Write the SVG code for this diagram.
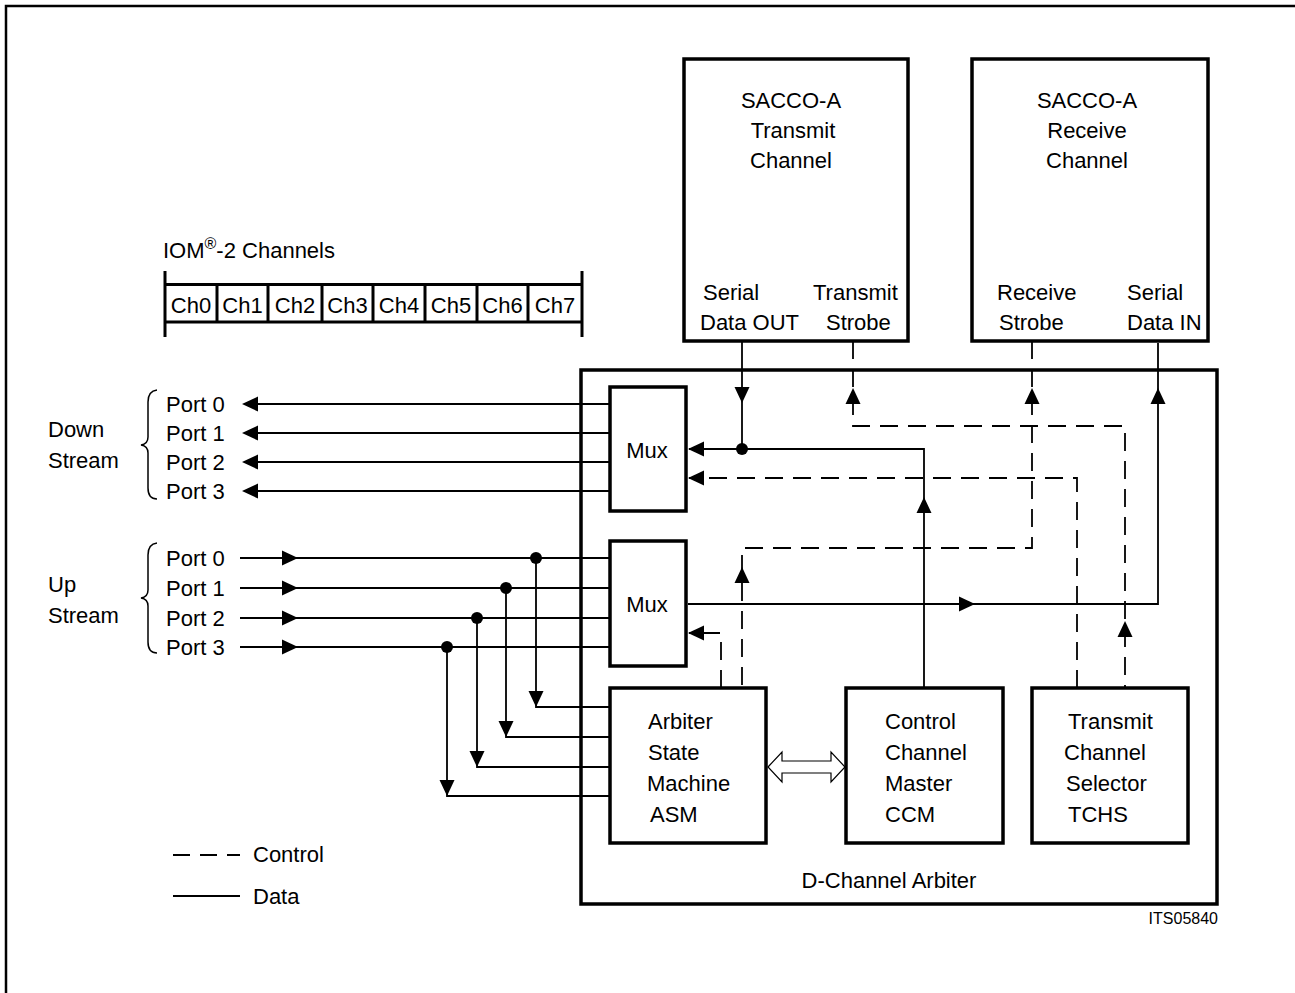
<svg xmlns="http://www.w3.org/2000/svg" xmlns:xlink="http://www.w3.org/1999/xlink" width="1295" height="993" viewBox="0 0 1295 993">
<style>
text{font-family:"Liberation Sans",Arial,sans-serif;font-size:22px;fill:#000}
.box{fill:#fff;stroke:#000;stroke-width:3.5}
.data{fill:none;stroke:#000;stroke-width:1.8}
.ctrl{fill:none;stroke:#000;stroke-width:1.8;stroke-dasharray:18 10}
.brace{fill:none;stroke:#000;stroke-width:1.5}
.mid{text-anchor:middle}
</style>
<defs>
<path id="ah" d="M0,0 L-16,-7.5 L-16,7.5 Z" fill="#000"/>
</defs>
<path d="M6,993 V6 H1295" fill="none" stroke="#000" stroke-width="2.5"/>

<g id="iom-channels">
<text x="163" y="258">IOM<tspan font-size="16" dy="-9">®</tspan><tspan dy="9">-2 Channels</tspan></text>
<path d="M165,271 V337 M582,271 V337 M165,284.5 H582 M165,322 H582" fill="none" stroke="#000" stroke-width="3"/>
<path d="M217,284 V322 M268,284 V322 M322,284 V322 M373,284 V322 M425,284 V322 M477,284 V322 M528,284 V322" fill="none" stroke="#000" stroke-width="3"/>
<text class="mid" x="191" y="313">Ch0</text>
<text class="mid" x="242.5" y="313">Ch1</text>
<text class="mid" x="295" y="313">Ch2</text>
<text class="mid" x="347.5" y="313">Ch3</text>
<text class="mid" x="399" y="313">Ch4</text>
<text class="mid" x="451" y="313">Ch5</text>
<text class="mid" x="502.5" y="313">Ch6</text>
<text class="mid" x="555" y="313">Ch7</text>
</g>

<g id="downstream">
<text x="48" y="437">Down</text>
<text x="48" y="468">Stream</text>
<path class="brace" d="M157,390 Q148,391 148,402 L148,437 Q148,444 141,445 Q148,446 148,453 L148,488 Q148,499 157,499"/>
<text x="166" y="412">Port 0</text>
<text x="166" y="441">Port 1</text>
<text x="166" y="470">Port 2</text>
<text x="166" y="499">Port 3</text>
</g>

<g id="upstream">
<text x="48" y="592">Up</text>
<text x="48" y="623">Stream</text>
<path class="brace" d="M157,543 Q148,544 148,555 L148,590 Q148,597 141,598 Q148,599 148,606 L148,642 Q148,653 157,653"/>
<text x="166" y="566">Port 0</text>
<text x="166" y="596">Port 1</text>
<text x="166" y="626">Port 2</text>
<text x="166" y="655">Port 3</text>
</g>

<g id="d-channel-arbiter">
<rect class="box" x="581" y="370" width="636" height="534"/>
<text class="mid" x="889" y="888">D-Channel Arbiter</text>
</g>

<g id="sacco-transmit">
<rect class="box" x="684" y="59" width="224" height="282"/>
<text class="mid" x="791" y="108">SACCO-A</text>
<text class="mid" x="793" y="138">Transmit</text>
<text class="mid" x="791" y="168">Channel</text>
<text x="703" y="300">Serial</text>
<text x="700" y="330">Data OUT</text>
<text x="813" y="300">Transmit</text>
<text x="826" y="330">Strobe</text>
</g>

<g id="sacco-receive">
<rect class="box" x="972" y="59" width="236" height="282"/>
<text class="mid" x="1087" y="108">SACCO-A</text>
<text class="mid" x="1087" y="138">Receive</text>
<text class="mid" x="1087" y="168">Channel</text>
<text x="997" y="300">Receive</text>
<text x="999" y="330">Strobe</text>
<text x="1127" y="300">Serial</text>
<text x="1127" y="330">Data IN</text>
</g>

<g id="mux-down">
<rect class="box" x="610" y="387" width="76" height="124"/>
<text class="mid" x="647" y="458">Mux</text>
</g>

<g id="mux-up">
<rect class="box" x="610" y="541" width="76" height="125"/>
<text class="mid" x="647" y="612">Mux</text>
</g>

<g id="asm">
<rect class="box" x="610" y="688" width="156" height="155"/>
<text x="648" y="729">Arbiter</text>
<text x="648" y="760">State</text>
<text x="647" y="791">Machine</text>
<text x="650" y="822">ASM</text>
</g>

<g id="ccm">
<rect class="box" x="846" y="688" width="157" height="155"/>
<text x="885" y="729">Control</text>
<text x="885" y="760">Channel</text>
<text x="885" y="791">Master</text>
<text x="885" y="822">CCM</text>
</g>

<g id="tchs">
<rect class="box" x="1032" y="688" width="156" height="155"/>
<text x="1068" y="729">Transmit</text>
<text x="1064" y="760">Channel</text>
<text x="1066" y="791">Selector</text>
<text x="1068" y="822">TCHS</text>
</g>

<g id="connectors">
<path class="data" d="M610,404 H244 M610,433 H244 M610,462 H244 M610,491 H244"/>
<path class="data" d="M240,558 H610 M240,588 H610 M240,618 H610 M240,647 H610"/>
<path class="data" d="M536,558 V707 H610 M506,588 V737 H610 M477,618 V767 H610 M447,647 V796 H610"/>
<path class="data" d="M742,341 V449"/>
<path class="data" d="M924,688 V449 H689"/>
<path class="data" d="M688,604 H1158 V343"/>
<path class="ctrl" d="M853,341 V426 H1125 V688"/>
<path class="ctrl" d="M1032,341 V548 H742 V688"/>
<path class="ctrl" d="M1077,688 V478 H689"/>
<path class="ctrl" d="M721,688 V633 H689"/>
<circle cx="536" cy="558" r="6"/>
<circle cx="506" cy="588" r="6"/>
<circle cx="477" cy="618" r="6"/>
<circle cx="447" cy="647" r="6"/>
<circle cx="742" cy="449" r="6"/>
<use xlink:href="#ah" transform="translate(242,404) rotate(180)"/>
<use xlink:href="#ah" transform="translate(242,433) rotate(180)"/>
<use xlink:href="#ah" transform="translate(242,462) rotate(180)"/>
<use xlink:href="#ah" transform="translate(242,491) rotate(180)"/>
<use xlink:href="#ah" transform="translate(298,558)"/>
<use xlink:href="#ah" transform="translate(298,588)"/>
<use xlink:href="#ah" transform="translate(298,618)"/>
<use xlink:href="#ah" transform="translate(298,647)"/>
<use xlink:href="#ah" transform="translate(536,707) rotate(90)"/>
<use xlink:href="#ah" transform="translate(506,737) rotate(90)"/>
<use xlink:href="#ah" transform="translate(477,767) rotate(90)"/>
<use xlink:href="#ah" transform="translate(447,796) rotate(90)"/>
<use xlink:href="#ah" transform="translate(742,403) rotate(90)"/>
<use xlink:href="#ah" transform="translate(688,449) rotate(180)"/>
<use xlink:href="#ah" transform="translate(688,478) rotate(180)"/>
<use xlink:href="#ah" transform="translate(688,633) rotate(180)"/>
<use xlink:href="#ah" transform="translate(853,388) rotate(-90)"/>
<use xlink:href="#ah" transform="translate(1032,388) rotate(-90)"/>
<use xlink:href="#ah" transform="translate(1158,388) rotate(-90)"/>
<use xlink:href="#ah" transform="translate(924,497) rotate(-90)"/>
<use xlink:href="#ah" transform="translate(975,604)"/>
<use xlink:href="#ah" transform="translate(742,567) rotate(-90)"/>
<use xlink:href="#ah" transform="translate(1125,621) rotate(-90)"/>
<polygon points="768,767 782,752 782,761 831,761 831,752 845,767 831,782 831,773 782,773 782,782" fill="#fff" stroke="#000" stroke-width="1.2"/>
</g>

<g id="legend">
<path class="ctrl" d="M173,855 H240" style="stroke-dasharray:17 10"/>
<text x="253" y="862">Control</text>
<path class="data" d="M173,896 H240"/>
<text x="253" y="904">Data</text>
</g>

<text x="1218" y="924" text-anchor="end" style="font-size:16px">ITS05840</text>
</svg>
